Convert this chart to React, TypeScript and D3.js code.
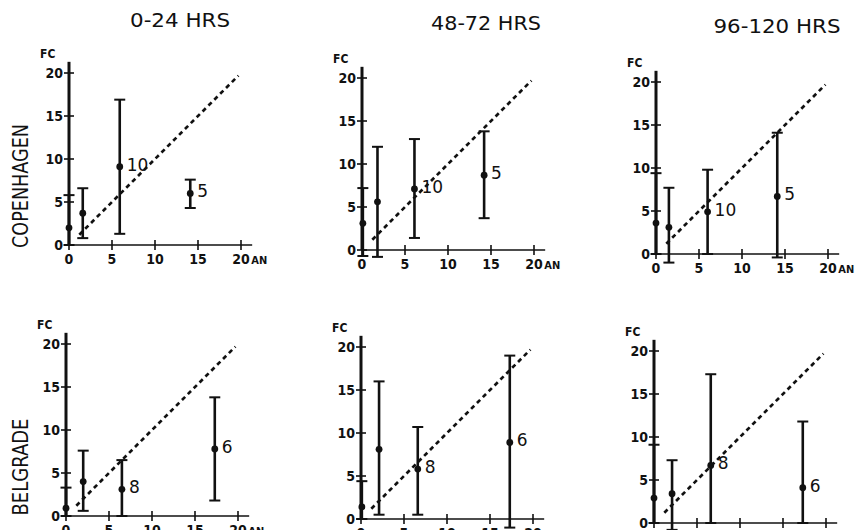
import React, { useEffect } from "react";
import * as d3 from "d3";

// column / row headings
const columns = ["0-24 HRS", "48-72 HRS", "96-120 HRS"];
const rows = ["COPENHAGEN", "BELGRADE"];
const xTicks = [0, 5, 10, 15, 20];
const yTicks = [0, 5, 10, 15, 20];
const identityLine = [1.2, 19.7];

type Pt = { an: number; fc: number; lo: number; hi: number; n?: string };

const copenhagen_0_24: Pt[] = [
  { an: 0, fc: 2.0, lo: 0, hi: 5.8 },
  { an: 1.6, fc: 3.7, lo: 0.8, hi: 6.6 },
  { an: 5.9, fc: 9.1, lo: 1.3, hi: 16.9, n: "10" },
  { an: 14.1, fc: 6.0, lo: 4.3, hi: 7.6, n: "5" },
];
const copenhagen_48_72: Pt[] = [
  { an: 0.1, fc: 3.1, lo: -0.7, hi: 7.2 },
  { an: 1.8, fc: 5.6, lo: -0.8, hi: 12.0 },
  { an: 6.1, fc: 7.1, lo: 1.4, hi: 12.9, n: "10" },
  { an: 14.2, fc: 8.7, lo: 3.7, hi: 13.8, n: "5" },
];
const copenhagen_96_120: Pt[] = [
  { an: 0, fc: 3.6, lo: 0, hi: 9.4 },
  { an: 1.5, fc: 3.1, lo: -1.0, hi: 7.7 },
  { an: 6.0, fc: 4.9, lo: 0, hi: 9.8, n: "10" },
  { an: 14.1, fc: 6.7, lo: -0.4, hi: 14.1, n: "5" },
];
const belgrade_0_24: Pt[] = [
  { an: 0, fc: 0.9, lo: 0, hi: 3.3 },
  { an: 2.0, fc: 4.0, lo: 0.6, hi: 7.6 },
  { an: 6.5, fc: 3.1, lo: 0, hi: 6.5, n: "8" },
  { an: 17.3, fc: 7.8, lo: 1.8, hi: 13.8, n: "6" },
];
const belgrade_48_72: Pt[] = [
  { an: 0.1, fc: 1.4, lo: 0, hi: 4.4 },
  { an: 2.1, fc: 8.1, lo: 0.5, hi: 16.0 },
  { an: 6.6, fc: 5.8, lo: 0.5, hi: 10.7, n: "8" },
  { an: 17.3, fc: 8.9, lo: -1.0, hi: 19.0, n: "6" },
];
const belgrade_96_120: Pt[] = [
  { an: 0, fc: 2.9, lo: 0, hi: 9.1 },
  { an: 2.1, fc: 3.4, lo: -0.8, hi: 7.3 },
  { an: 6.6, fc: 6.7, lo: 0, hi: 17.3, n: "8" },
  { an: 17.3, fc: 4.1, lo: 0, hi: 11.8, n: "6" },
];

const panelData = [
  [copenhagen_0_24, copenhagen_48_72, copenhagen_96_120],
  [belgrade_0_24, belgrade_48_72, belgrade_96_120],
];

// layout (pixel origins of each small plot, the scan is slightly skewed)
const origins = [
  [[69, 245], [362, 250], [656, 254]],
  [[66, 516], [361, 519], [654, 523]],
];
const titleX = [180, 486, 777];
const titleY = [27, 30, 33];
const titleLen = [100, 110, 127];
const rowLabelY = [186, 467];
const rowLabelLen = [124, 97];
const SPAN = 172; // px for 20 units

const ink = "#111";
const font = "'DejaVu Sans', sans-serif";
const condensed = "'DejaVu Sans Condensed', 'DejaVu Sans', sans-serif";

function Panel({ data, ox, oy }: { data: Pt[]; ox: number; oy: number }) {
  const x = d3.scaleLinear().domain([0, 20]).range([ox, ox + SPAN]);
  const y = d3.scaleLinear().domain([0, 20]).range([oy, oy - SPAN]);
  const line = d3
    .line<number>()
    .x((d) => x(d))
    .y((d) => y(d));

  return (
    <g>
      {/* axes */}
      <line x1={x(0)} x2={x(0)} y1={y(0)} y2={y(21.3)} stroke={ink} strokeWidth={3} />
      <line x1={x(0)} x2={x(21.3)} y1={y(0)} y2={y(0)} stroke={ink} strokeWidth={1.6} />
      {yTicks.map((t) => (
        <g key={"y" + t}>
          <line x1={x(0) - 5} x2={x(0) + 5} y1={y(t)} y2={y(t)} stroke={ink} strokeWidth={1.6} />
          <text
            x={x(0) - 6}
            y={y(t) + 5}
            textAnchor="end"
            fontSize={14}
            fontWeight="bold"
            fontFamily={condensed}
            fill={ink}
          >
            {t}
          </text>
        </g>
      ))}
      {xTicks.map((t) => (
        <g key={"x" + t}>
          <line x1={x(t)} x2={x(t)} y1={y(0) - 5} y2={y(0) + 5} stroke={ink} strokeWidth={1.6} />
          <text
            x={x(t)}
            y={y(0) + 19}
            textAnchor="middle"
            fontSize={14}
            fontWeight="bold"
            fontFamily={condensed}
            fill={ink}
          >
            {t}
          </text>
        </g>
      ))}
      <text x={x(21.2)} y={y(0) + 19} fontSize={11} fontWeight="bold" fontFamily={condensed} fill={ink}>
        AN
      </text>
      <text x={x(0) - 29} y={y(20) - 15} fontSize={12} fontWeight="bold" fontFamily={condensed} fill={ink}>
        FC
      </text>

      {/* identity line */}
      <path
        d={line(identityLine) || ""}
        stroke={ink}
        strokeWidth={2.7}
        strokeDasharray="4.5,3.8"
        fill="none"
      />

      {/* error bars */}
      {data.map((d, i) => (
        <g key={i}>
          <line x1={x(d.an)} x2={x(d.an)} y1={y(d.lo)} y2={y(d.hi)} stroke={ink} strokeWidth={2.6} />
          <line x1={x(d.an) - 5.5} x2={x(d.an) + 5.5} y1={y(d.lo)} y2={y(d.lo)} stroke={ink} strokeWidth={2} />
          <line x1={x(d.an) - 5.5} x2={x(d.an) + 5.5} y1={y(d.hi)} y2={y(d.hi)} stroke={ink} strokeWidth={2} />
          <circle cx={x(d.an)} cy={y(d.fc)} r={3.4} fill={ink} />
          {d.n && (
            <text x={x(d.an) + 7} y={y(d.fc) + 4} fontSize={17} fontFamily={font} fill={ink}>
              {d.n}
            </text>
          )}
        </g>
      ))}
    </g>
  );
}

export default function App() {
  useEffect(() => {
    document.body.style.margin = "0";
  }, []);

  return (
    <svg
      width={868}
      height={530}
      style={{ position: "absolute", left: 0, top: 0, background: "#fff" }}
    >
      <rect width={868} height={530} fill="#fff" />
      {columns.map((c, i) => (
        <text
          key={c}
          x={titleX[i]}
          y={titleY[i]}
          textAnchor="middle"
          fontSize={19}
          fontFamily={font}
          textLength={titleLen[i]}
          lengthAdjust="spacingAndGlyphs"
          fill={ink}
        >
          {c}
        </text>
      ))}
      {rows.map((r, i) => (
        <text
          key={r}
          transform={`translate(28,${rowLabelY[i]}) rotate(-90)`}
          textAnchor="middle"
          fontSize={22}
          fontFamily={condensed}
          textLength={rowLabelLen[i]}
          lengthAdjust="spacingAndGlyphs"
          fill={ink}
        >
          {r}
        </text>
      ))}
      {panelData.map((row, ri) =>
        row.map((data, ci) => (
          <Panel key={ri + "-" + ci} data={data} ox={origins[ri][ci][0]} oy={origins[ri][ci][1]} />
        ))
      )}
    </svg>
  );
}
